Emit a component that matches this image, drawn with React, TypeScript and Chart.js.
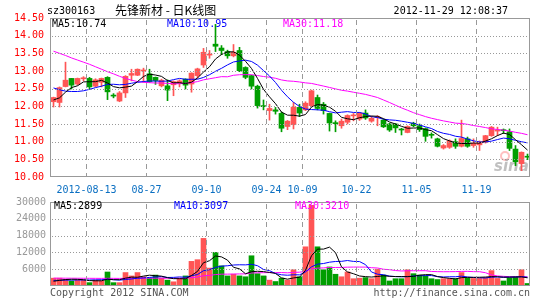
import React, { useEffect, useRef } from "react";
import { Chart, registerables } from "chart.js";

Chart.register(...registerables);

// ---------- data ----------
const dates = [
  "2012-08-03","2012-08-06","2012-08-07","2012-08-08","2012-08-09","2012-08-10","2012-08-13","2012-08-14","2012-08-15","2012-08-16",
  "2012-08-17","2012-08-20","2012-08-21","2012-08-22","2012-08-23","2012-08-24","2012-08-27","2012-08-28","2012-08-29","2012-08-30",
  "2012-08-31","2012-09-03","2012-09-04","2012-09-05","2012-09-06","2012-09-07","2012-09-10","2012-09-11","2012-09-12","2012-09-13",
  "2012-09-14","2012-09-17","2012-09-18","2012-09-19","2012-09-20","2012-09-21","2012-09-24","2012-09-25","2012-09-26","2012-09-27",
  "2012-09-28","2012-10-08","2012-10-09","2012-10-10","2012-10-11","2012-10-12","2012-10-15","2012-10-16","2012-10-17","2012-10-18",
  "2012-10-19","2012-10-22","2012-10-23","2012-10-24","2012-10-25","2012-10-26","2012-10-29","2012-10-30","2012-10-31","2012-11-01",
  "2012-11-02","2012-11-05","2012-11-06","2012-11-07","2012-11-08","2012-11-09","2012-11-12","2012-11-13","2012-11-14","2012-11-15",
  "2012-11-16","2012-11-19","2012-11-20","2012-11-21","2012-11-22","2012-11-23","2012-11-26","2012-11-27","2012-11-28","2012-11-29",
];

const openPrices = [
  12.13,12.11,12.56,12.79,12.63,12.78,12.79,12.57,12.68,12.82,
  12.31,12.15,12.38,12.88,12.88,13.00,12.92,12.82,12.58,12.58,
  12.61,12.66,12.77,12.63,12.87,13.17,13.45,13.76,13.65,13.55,
  13.43,13.58,13.10,12.87,12.57,12.02,11.88,11.90,11.80,11.43,
  11.48,11.97,11.90,12.02,12.25,12.06,11.80,11.53,11.45,11.55,
  11.73,11.64,11.81,11.58,11.68,11.61,11.50,11.50,11.34,11.26,
  11.52,11.45,11.37,11.20,11.08,10.82,10.84,11.00,10.87,11.08,
  10.89,10.91,10.98,11.17,11.30,11.33,11.28,10.79,10.38,10.58,
];
const highPrices = [
  12.26,12.55,13.25,12.79,12.80,12.84,12.82,12.78,12.80,12.84,
  12.36,12.42,12.87,13.05,13.06,13.08,13.05,12.83,12.77,12.75,
  12.72,12.75,12.78,12.95,13.08,13.64,13.58,14.32,13.72,13.59,
  13.75,13.67,13.12,12.88,12.60,12.18,12.06,11.97,11.84,11.60,
  12.11,12.06,12.13,12.46,12.32,12.11,11.81,11.59,11.64,11.76,
  11.80,11.83,11.90,11.72,11.74,11.63,11.52,11.51,11.38,11.45,
  11.55,11.50,11.39,11.25,11.10,10.92,11.05,11.08,11.61,11.13,
  11.08,11.02,11.18,11.43,11.41,11.36,11.36,10.89,10.71,10.65,
];
const lowPrices = [
  11.98,11.98,12.55,12.49,12.60,12.72,12.49,12.55,12.55,12.19,
  12.24,12.13,12.25,12.72,12.87,12.68,12.68,12.62,12.55,12.16,
  12.30,12.55,12.49,12.40,12.80,13.10,13.36,13.55,13.46,13.36,
  13.40,12.98,12.78,12.49,11.95,11.90,11.61,11.78,11.28,11.34,
  11.36,11.71,11.88,12.00,11.90,11.78,11.30,11.28,11.38,11.50,
  11.59,11.60,11.63,11.55,11.45,11.40,11.29,11.26,11.19,11.25,
  11.42,11.29,11.01,11.10,10.85,10.79,10.81,10.81,10.85,10.84,
  10.84,10.75,10.96,11.15,11.17,11.23,10.75,10.32,10.18,10.49,
];
const closePrices = [
  12.25,12.53,12.74,12.60,12.79,12.80,12.55,12.75,12.79,12.41,
  12.29,12.38,12.85,12.93,13.05,13.02,12.70,12.73,12.74,12.46,
  12.70,12.72,12.60,12.94,13.06,13.53,13.47,13.70,13.58,13.43,
  13.53,13.01,12.82,12.57,12.02,11.99,11.94,11.86,11.38,11.58,
  11.98,11.81,12.09,12.44,11.94,11.88,11.53,11.51,11.58,11.74,
  11.75,11.81,11.67,11.66,11.70,11.42,11.33,11.39,11.33,11.43,
  11.45,11.34,11.15,11.18,10.87,10.89,11.02,10.87,11.09,10.87,
  10.96,11.00,11.17,11.41,11.32,11.31,10.81,10.43,10.70,10.56,
];
const volumes = [
  2800,2800,2400,1800,2100,2100,1200,2100,1800,5000,
  1200,1200,4800,3600,4800,3300,2800,3900,2800,2100,
  1500,2800,3600,8800,9400,17000,6400,12000,7200,3600,
  4200,3600,3300,10800,4400,3600,2100,1600,2800,2100,
  5800,3300,14000,28800,14000,5800,6800,4200,3300,5000,
  2600,2800,3000,2600,6000,3900,1800,2600,2600,5800,
  4400,3900,3600,2600,2300,2600,2600,2600,4800,2800,
  2700,2700,3000,5500,2700,1800,2900,3200,5800,900,
];

// moving-average values before a full window exists
const priceMa5Head = [12.18, 12.24, 12.40, 12.53];
const priceMa10Head = [12.52, 12.47, 12.43, 12.42, 12.42, 12.44, 12.48, 12.53, 12.57];
const priceMa30Head = [
  13.56,13.50,13.44,13.37,13.31,13.25,13.19,13.12,13.05,12.98,
  12.92,12.85,12.79,12.74,12.70,12.68,12.67,12.66,12.66,12.65,
  12.64,12.64,12.65,12.67,12.70,12.75,12.78,12.81,12.84,
];
const volMa5Head = [1700, 2000, 2300, 2400];
const volMa10Head = [2000, 2050, 2100, 2100, 2150, 2150, 2150, 2200, 2250];
const volMa30Head = [
  2800,2800,2790,2780,2770,2760,2740,2730,2720,2750,
  2730,2710,2740,2760,2780,2790,2790,2800,2800,2780,
  2750,2750,2780,2980,3200,3660,3780,4080,4220,
];

const priceMaLabels = ["MA5:10.74", "MA10:10.95", "MA30:11.18"];
const volMaLabels = ["MA5:2899", "MA10:3097", "MA30:3210"];
const dateTickIndices = [6, 16, 26, 36, 42, 51, 61, 71];
const priceTickValues = [10.5, 11, 11.5, 12, 12.5, 13, 13.5, 14];
const volTickValues = [6000, 12000, 18000, 24000];
const priceAxis = { min: 10, max: 14.5, step: 0.5 };
const volAxis = { min: 0, max: 30000, step: 6000 };

// ---------- style ----------
const MONO = "'DejaVu Sans Mono', 'Liberation Mono', monospace";
const CJK = "'Noto Sans CJK SC', sans-serif";
const UP = "#ff5555";
const DOWN = "#009e00";
const MA_COLORS = ["#000000", "#0000ff", "#ff00ff"];
const GRID = "#999999";
const FRAME = "#999999";
const X_MIN = -0.5 - 1 / 12;
const X_MAX = 79.5 - 1 / 12;

function movingAverage(values: number[], n: number, head: number[]) {
  return values.map((_, i) => {
    if (i < n - 1) return head[i];
    let s = 0;
    for (let k = i - n + 1; k <= i; k++) s += values[k];
    return s / n;
  });
}

const candleColors = closePrices.map((c, i) => (c >= openPrices[i] ? UP : DOWN));

function xScale(showLabels: boolean, height: number) {
  return {
    type: "linear",
    min: X_MIN,
    max: X_MAX,
    offset: false,
    afterBuildTicks: (scale: any) => {
      scale.ticks = dateTickIndices.map((i) => ({ value: i - 0.5 }));
    },
    afterFit: (scale: any) => {
      scale.height = height;
    },
    grid: { display: false, drawTicks: false, drawOnChartArea: false },
    border: { display: false },
    ticks: {
      display: showLabels,
      autoSkip: false,
      maxRotation: 0,
      padding: 7,
      color: "#0a6fc2",
      font: { family: MONO, size: 10 },
      callback: (v: any) => {
        const i = Math.round(Number(v) + 0.5);
        return i === dateTickIndices[0] ? dates[i] : dates[i].slice(5);
      },
    },
  };
}

function yScale(axis: { min: number; max: number; step: number }, color: string, padding: number, fmt: (v: number) => string) {
  return {
    type: "linear",
    min: axis.min,
    max: axis.max,
    afterFit: (scale: any) => {
      scale.width = 50;
    },
    grid: { display: false, drawTicks: false, drawOnChartArea: false },
    border: { display: false },
    ticks: {
      stepSize: axis.step,
      padding,
      color,
      font: { family: MONO, size: 10 },
      callback: (v: any) => fmt(Number(v)),
    },
  };
}

function lineDataset(values: number[], color: string) {
  return {
    type: "line",
    data: values.map((v, i) => ({ x: i, y: v })),
    borderColor: color,
    borderWidth: 1,
    pointRadius: 0,
    fill: false,
    tension: 0,
    order: 0,
  };
}

// grid: dotted horizontals at the value ticks, dashed verticals at the date ticks
function drawGrid(chart: any, yValues: number[]) {
  const ctx = chart.ctx;
  const a = chart.chartArea;
  const xs = chart.scales.x;
  const ys = chart.scales.y;
  const left = Math.round(a.left);
  const right = Math.round(a.right);
  const top = Math.round(a.top);
  const bottom = Math.round(a.bottom);
  ctx.save();
  ctx.fillStyle = GRID;
  yValues.forEach((v) => {
    const py = Math.round(ys.getPixelForValue(v));
    for (let x = left + 2; x < right - 1; x += 3) ctx.fillRect(x, py, 1, 1);
  });
  dateTickIndices.forEach((i) => {
    const px = Math.floor(xs.getPixelForValue(i - 0.5));
    for (let y = top + 2; y < bottom - 1; y += 9) {
      ctx.fillRect(px, y, 1, Math.min(5, bottom - 1 - y));
    }
  });
  ctx.restore();
}

function panelPlugin(
  id: string,
  yValues: number[],
  under: (ctx: CanvasRenderingContext2D, chart: any) => void,
  over: (ctx: CanvasRenderingContext2D, chart: any) => void
) {
  return {
    id,
    beforeDatasetsDraw(chart: any) {
      const ctx = chart.ctx;
      ctx.save();
      under(ctx, chart);
      ctx.restore();
    },
    afterDraw(chart: any) {
      drawGrid(chart, yValues);
      const { ctx, chartArea: a } = chart;
      ctx.save();
      ctx.fillStyle = FRAME;
      const w = a.right - a.left;
      const h = a.bottom - a.top;
      ctx.fillRect(a.left, a.top, w, 1);
      ctx.fillRect(a.left, a.bottom - 1, w, 1);
      ctx.fillRect(a.left, a.top, 1, h);
      ctx.fillRect(a.right - 1, a.top, 1, h);
      over(ctx, chart);
      ctx.restore();
    },
  };
}

export default function App() {
  const priceRef = useRef<HTMLCanvasElement>(null);
  const volRef = useRef<HTMLCanvasElement>(null);

  useEffect(() => {
    const pMa5 = movingAverage(closePrices, 5, priceMa5Head);
    const pMa10 = movingAverage(closePrices, 10, priceMa10Head);
    const pMa30 = movingAverage(closePrices, 30, priceMa30Head);
    const vMa5 = movingAverage(volumes, 5, volMa5Head);
    const vMa10 = movingAverage(volumes, 10, volMa10Head);
    const vMa30 = movingAverage(volumes, 30, volMa30Head);

    const pricePanel = panelPlugin(
      "pricePanel",
      priceTickValues,
      (ctx) => {
        ctx.strokeStyle = "rgba(255,150,150,0.6)";
        ctx.lineWidth = 2;
        ctx.beginPath();
        ctx.arc(505, 156, 4, 0, Math.PI * 2);
        ctx.stroke();
        ctx.fillStyle = "rgba(150,150,150,0.6)";
        ctx.font = `italic bold 15px 'DejaVu Sans', sans-serif`;
        ctx.textBaseline = "alphabetic";
        ctx.fillText("sina", 494, 171);
      },
      (ctx) => {
        ctx.textBaseline = "middle";
        ctx.textAlign = "left";
        ctx.fillStyle = "#000";
        ctx.font = `10px ${MONO}`;
        ctx.fillText("sz300163", 47, 11);
        ctx.font = `12px ${CJK}`;
        ctx.fillText("先锋新材 - 日K线图", 115, 10);
        ctx.font = `10px ${MONO}`;
        ctx.textAlign = "right";
        ctx.fillText("2012-11-29 12:08:37", 508, 11);
        ctx.textAlign = "left";
        const xs = [52, 167, 283];
        priceMaLabels.forEach((t, k) => {
          ctx.fillStyle = MA_COLORS[k];
          ctx.fillText(t, xs[k], 24);
        });
      }
    );

    const c1 = new Chart(priceRef.current as HTMLCanvasElement, {
      type: "bar",
      data: {
        datasets: [
          lineDataset(pMa5, MA_COLORS[0]),
          lineDataset(pMa10, MA_COLORS[1]),
          lineDataset(pMa30, MA_COLORS[2]),
          {
            type: "bar",
            data: openPrices.map((o, i) => ({ x: i, y: [o, closePrices[i]] })),
            backgroundColor: candleColors,
            borderWidth: 0,
            barThickness: 5,
            minBarLength: 1,
            grouped: false,
            order: 1,
          },
          {
            type: "bar",
            data: lowPrices.map((l, i) => ({ x: i, y: [l, highPrices[i]] })),
            backgroundColor: candleColors,
            borderWidth: 0,
            barThickness: 1,
            grouped: false,
            order: 2,
          },
        ] as any,
      },
      options: {
        responsive: false,
        animation: false,
        devicePixelRatio: 1,
        events: [],
        layout: { padding: { left: 0, right: 15, top: 18, bottom: 0 } },
        plugins: { legend: { display: false }, tooltip: { enabled: false }, title: { display: false } },
        scales: {
          x: xScale(true, 21) as any,
          y: yScale(priceAxis, "#ff0000", 6, (v) => v.toFixed(2)) as any,
        },
      },
      plugins: [pricePanel],
    } as any);

    const volPanel = panelPlugin(
      "volPanel",
      volTickValues,
      () => {},
      (ctx) => {
        ctx.textBaseline = "middle";
        ctx.textAlign = "left";
        ctx.font = `10px ${MONO}`;
        const xs = [54, 174, 295];
        volMaLabels.forEach((t, k) => {
          ctx.fillStyle = MA_COLORS[k];
          ctx.fillText(t, xs[k], 14);
        });
        ctx.fillStyle = "#555555";
        ctx.fillText("Copyright 2012 SINA.COM", 50, 101);
        ctx.textAlign = "right";
        ctx.fillText("http://finance.sina.com.cn", 530, 101);
      }
    );

    const c2 = new Chart(volRef.current as HTMLCanvasElement, {
      type: "bar",
      data: {
        datasets: [
          lineDataset(vMa5, MA_COLORS[0]),
          lineDataset(vMa10, MA_COLORS[1]),
          lineDataset(vMa30, MA_COLORS[2]),
          {
            type: "bar",
            data: volumes.map((v, i) => ({ x: i, y: v })),
            backgroundColor: candleColors,
            borderWidth: 0,
            barThickness: 5,
            grouped: false,
            order: 1,
          },
        ] as any,
      },
      options: {
        responsive: false,
        animation: false,
        devicePixelRatio: 1,
        events: [],
        layout: { padding: { left: 0, right: 15, top: 9, bottom: 0 } },
        plugins: { legend: { display: false }, tooltip: { enabled: false }, title: { display: false } },
        scales: {
          x: xScale(false, 14) as any,
          y: yScale(volAxis, "#999999", 4, (v) => (v === 0 ? "" : String(v))) as any,
        },
      },
      plugins: [volPanel],
    } as any);

    return () => {
      c1.destroy();
      c2.destroy();
    };
  }, []);

  return (
    <div style={{ position: "absolute", left: 0, top: 0, width: 545, height: 300, background: "#fff" }}>
      <canvas ref={priceRef} width={545} height={198} style={{ position: "absolute", left: 0, top: 0 }} />
      <canvas ref={volRef} width={545} height={108} style={{ position: "absolute", left: 0, top: 192 }} />
    </div>
  );
}
